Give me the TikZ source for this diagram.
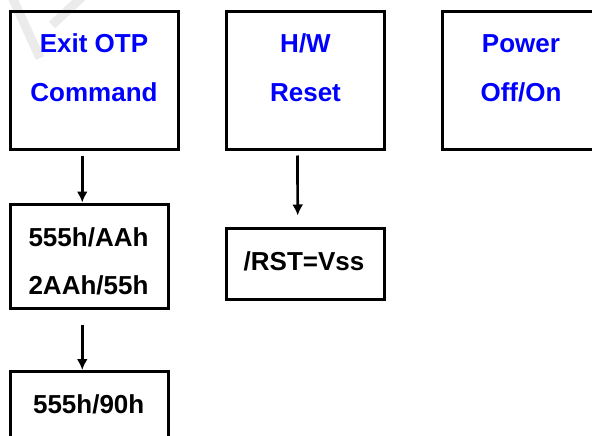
\documentclass[tikz,border=0pt]{standalone}
\usepackage{fontspec}
\setmainfont{Liberation Sans}
\usepackage{xcolor}
\usetikzlibrary{arrows.meta}
\definecolor{t1}{HTML}{0000FF}
\definecolor{w1}{HTML}{EBEBEB}
\tikzset{>={Latex[length=11pt,width=11pt]}}
\tikzstyle{box}=[draw,line width=3pt,inner sep=0pt,minimum width=158pt]
\tikzstyle{line}=[anchor=base,font=\fontsize{26}{30}\selectfont\bfseries]
\tikzstyle{blue line}=[line,text=t1]
\tikzstyle{flow}=[->,line width=2.7pt]

\begin{document}
\begin{tikzpicture}[x=1pt,y=1pt]
  \useasboundingbox (0,0) rectangle (592,-436);
  % watermark strokes
  \draw[w1,line width=9pt] (12,3) -- (40,-58);
  \draw[w1,line width=9pt] (82,3) -- (52,-25);
  % boxes
  \node[box,minimum width=167.5pt,minimum height=137.3pt] (exit) at (94.25,-80.35) {};
  \node[box,minimum height=137.3pt] (hw) at (305.5,-80.35) {};
  \node[box,minimum height=137.3pt] (power) at (521,-80.35) {};
  \node[box,minimum width=157.5pt,minimum height=104pt] (seq) at (89.25,-256) {};
  \node[box,minimum height=71pt] (rst) at (305.7,-263.5) {};
  \node[box,minimum width=157.5pt,minimum height=104.5pt] (cmd) at (89.25,-423.75) {};
  % texts
  \node[blue line] (exit1) at (94,-53) {Exit OTP};
  \node[blue line] (exit2) at (94,-101) {Command};
  \node[blue line] (hw1) at (305.5,-53) {H/W};
  \node[blue line] (hw2) at (305.5,-101) {Reset};
  \node[blue line] (power1) at (521,-53) {Power};
  \node[blue line] (power2) at (521,-101) {Off/On};
  \node[line] (seq1) at (88.5,-246.7) {555h/AAh};
  \node[line] (seq2) at (88.5,-294) {2AAh/55h};
  \node[line] (rst1) at (304,-270) {/RST=Vss};
  \node[line] (cmd1) at (88.7,-413) {555h/90h};
  % arrows
  \draw[flow] ([shift={(-12,-5)}]exit.south) -- ([xshift=-7pt]seq.north);
  \draw[flow] ([shift={(-8,-5)}]hw.south) -- ([shift={(-8,11)}]rst.north);
  \draw[flow] ([shift={(-7,-15)}]seq.south) -- ([xshift=-7pt]cmd.north);
\end{tikzpicture}
\end{document}
